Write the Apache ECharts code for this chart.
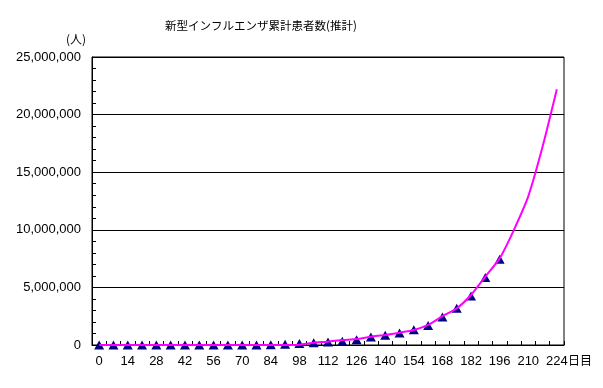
<!DOCTYPE html>
<html>
<head>
<meta charset="utf-8">
<script src="https://cdn.jsdelivr.net/npm/echarts@6/dist/echarts.min.js"></script>
<style>
html,body{margin:0;padding:0;background:#fff;}
#c{width:603px;height:388px;}
</style>
</head>
<body>
<div id="c"></div>
<script>
var titleText = '新型インフルエンザ累計患者数(推計)';
var yUnit = '(人)';
var xUnit = '日目';
var days = [0,7,14,21,28,35,42,49,56,63,70,77,84,91,98,105,112,119,126,133,140,147,154,161,168,175,182,189,196,203,210,217,224];
var observed = [0,0,0,0,0,0,0,0,0,0,0,0,30000,60000,120000,200000,270000,330000,460000,690000,850000,1050000,1330000,1700000,2420000,3200000,4250000,5870000,7440000];
var estimated = [0,0,0,0,0,0,0,0,0,0,0,0,0,0,30000,200000,290000,430000,520000,720000,870000,1070000,1300000,1740000,2500000,3180000,4340000,5930000,7520000,10000000,12900000,17200000,22200000];

var chart = echarts.init(document.getElementById('c'));
var font = '"Noto Sans CJK JP", "Liberation Sans", sans-serif';
chart.setOption({
  animation: false,
  backgroundColor: '#fff',
  textStyle: {fontFamily: font},
  title: {
    text: titleText, left: 160, top: 15,
    textStyle: {fontSize: 11.5, fontWeight: 'normal', color: '#000', fontFamily: font}
  },
  graphic: [
    {type: 'text', left: 66, top: 33, style: {text: yUnit, fill: '#000', font: '12px ' + font}},
    {type: 'text', left: 568, top: 354, style: {text: xUnit, fill: '#000', font: '12px ' + font}}
  ],
  grid: {left: 92, right: 39, top: 57, bottom: 43, show: true, borderColor: '#000', borderWidth: 1, backgroundColor: 'transparent'},
  xAxis: {
    type: 'category', data: days, boundaryGap: true,
    axisLine: {lineStyle: {color: '#000', width: 1}},
    axisTick: {show: true, inside: true, length: 4, interval: 0, lineStyle: {color: '#000'}},
    axisLabel: {interval: 1, color: '#000', fontSize: 13, margin: 10, fontFamily: '"Liberation Sans", sans-serif'},
    splitLine: {show: false}
  },
  yAxis: {
    type: 'value', min: 0, max: 25000000, interval: 5000000,
    axisLine: {show: true, lineStyle: {color: '#000', width: 1}},
    axisTick: {show: true, inside: true, length: 4, lineStyle: {color: '#000'}},
    minorTick: {show: true, splitNumber: 5, length: 4, lineStyle: {color: '#000'}},
    axisLabel: {
      color: '#000', fontSize: 13, margin: 11, fontFamily: '"Liberation Sans", sans-serif',
      formatter: function (v) { return v.toString().replace(/\B(?=(\d{3})+(?!\d))/g, ','); }
    },
    splitLine: {show: true, lineStyle: {color: '#000', width: 1}}
  },
  series: [
    {
      type: 'line', data: observed, symbol: 'triangle', symbolSize: [10, 9], showSymbol: true,
      itemStyle: {color: '#000080'}, lineStyle: {opacity: 0}, z: 2
    },
    {
      type: 'line', data: estimated, showSymbol: false, symbol: 'none', smooth: 0.2,
      lineStyle: {color: '#FF00FF', width: 2}, itemStyle: {color: '#FF00FF'}, z: 3
    }
  ]
});
</script>
</body>
</html>
